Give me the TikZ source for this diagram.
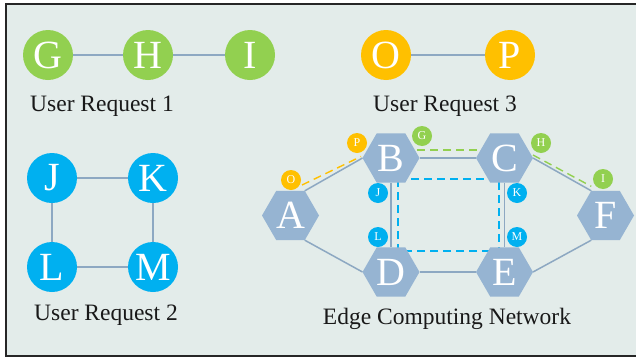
\documentclass[tikz,border=0pt]{standalone}
\usepackage{fontspec}
\setmainfont{Liberation Serif}
\usetikzlibrary{shapes.geometric}

\definecolor{panel}{RGB}{227,236,234}
\definecolor{reqgreen}{RGB}{146,208,80}
\definecolor{reqorange}{RGB}{255,192,0}
\definecolor{reqblue}{RGB}{0,176,240}
\definecolor{hexfill}{RGB}{150,180,210}
\definecolor{linkgray}{RGB}{141,168,194}

\pgfdeclarelayer{back}
\pgfdeclarelayer{links}
\pgfsetlayers{back,links,main}

\tikzset{
  reqnode/.style={circle, minimum size=50pt, inner sep=0pt, outer sep=0pt,
    text=white, font=\fontsize{40}{40}\selectfont},
  greennode/.style={reqnode, fill=reqgreen},
  orangenode/.style={reqnode, fill=reqorange},
  bluenode/.style={reqnode, fill=reqblue},
  hexnode/.style={regular polygon, regular polygon sides=6, minimum size=57pt,
    inner sep=0pt, outer sep=0pt, fill=hexfill, text=white,
    font=\fontsize{40}{40}\selectfont},
  tag/.style={circle, minimum size=20pt, inner sep=0pt, outer sep=0pt,
    text=white, font=\fontsize{12}{12}\selectfont},
  caption/.style={anchor=base, font=\fontsize{23.5}{26}\selectfont, text=black!90},
  link/.style={draw=linkgray, line width=1.5pt},
  pathdash/.style={line width=1.4pt, dash pattern=on 8pt off 5pt},
}

\begin{document}
\begin{tikzpicture}[x=1pt,y=-1pt]
\useasboundingbox (0,0) rectangle (636,359);

% panel
\begin{pgfonlayer}{back}
  \fill[white] (0,0) rectangle (636,359);
  \draw[line width=1.5pt, draw=black!85, fill=panel] (6,4) rectangle (660,356);
\end{pgfonlayer}

% user request 1
\node[greennode] (G) at (48,55) {G};
\node[greennode] (H) at (148,55) {H};
\node[greennode] (I) at (250,55) {I};
\node[caption] (cap1) at (102,111) {User Request 1};

% user request 3
\node[orangenode] (O) at (386,55) {O};
\node[orangenode] (P) at (510,55) {P};
\node[caption] (cap3) at (445,111) {User Request 3};

% user request 2
\node[bluenode] (J) at (52,178) {J};
\node[bluenode] (K) at (153,178) {K};
\node[bluenode] (L) at (52,267) {L};
\node[bluenode] (M) at (153,267) {M};
\node[caption] (cap2) at (106,320) {User Request 2};

% edge computing network
\node[hexnode] (A) at (290.5,215.5) {A};
\node[hexnode] (B) at (391,158) {B};
\node[hexnode] (C) at (504.5,158) {C};
\node[hexnode] (D) at (391,272) {D};
\node[hexnode] (E) at (504.5,272) {E};
\node[hexnode] (F) at (605.5,215.5) {F};
\node[caption] (cap4) at (447,324) {Edge Computing Network};

% request links
\begin{pgfonlayer}{links}
  \draw[link] (G) -- (H);
  \draw[link] (H) -- (I);
  \draw[link] (O) -- (P);
  \draw[link] (J) -- (K) -- (M) -- (L) -- (J);

  % physical links
  \draw[link] (A.60) -- (B.180);
  \draw[link] (A.-60) -- (D.180);
  \draw[link] (B.0) -- (C.180);
  \draw[link] (D.0) -- (E.180);
  \draw[link] (B.-90) -- (D.90);
  \draw[link] (C.-90) -- (E.90);
  \draw[link] (C.0) -- (F.120);
  \draw[link] (E.0) -- (F.-120);

  % mapped request paths
  \coordinate (bj) at (398,179);
  \coordinate (ck) at (499,179);
  \coordinate (em) at (499,251);
  \coordinate (dl) at (398,251);
  \draw[pathdash, reqblue] (bj) -- (ck) -- (em) -- (dl) -- cycle;

  \draw[pathdash, reqgreen] ([yshift=8pt]B.center) -- ([yshift=8pt]C.center);
  \draw[pathdash, reqgreen] ([yshift=3pt]C.0) -- ([yshift=4.5pt]F.120);

  \coordinate (ao) at (302,185);
  \coordinate (bp) at (361,156.5);
  \draw[pathdash, reqorange] (ao) -- (bp);
\end{pgfonlayer}

% request tags on the network
\node[tag, fill=reqorange] (tO) at (291,180) {O};
\node[tag, fill=reqorange] (tP) at (357,143) {P};
\node[tag, fill=reqgreen] (tG) at (422,136) {G};
\node[tag, fill=reqgreen] (tH) at (541,143) {H};
\node[tag, fill=reqgreen] (tI) at (603,179) {I};
\node[tag, fill=reqblue] (tJ) at (378,193) {J};
\node[tag, fill=reqblue] (tL) at (378,237) {L};
\node[tag, fill=reqblue] (tK) at (517,193) {K};
\node[tag, fill=reqblue] (tM) at (517,237) {M};
\end{tikzpicture}
\end{document}
